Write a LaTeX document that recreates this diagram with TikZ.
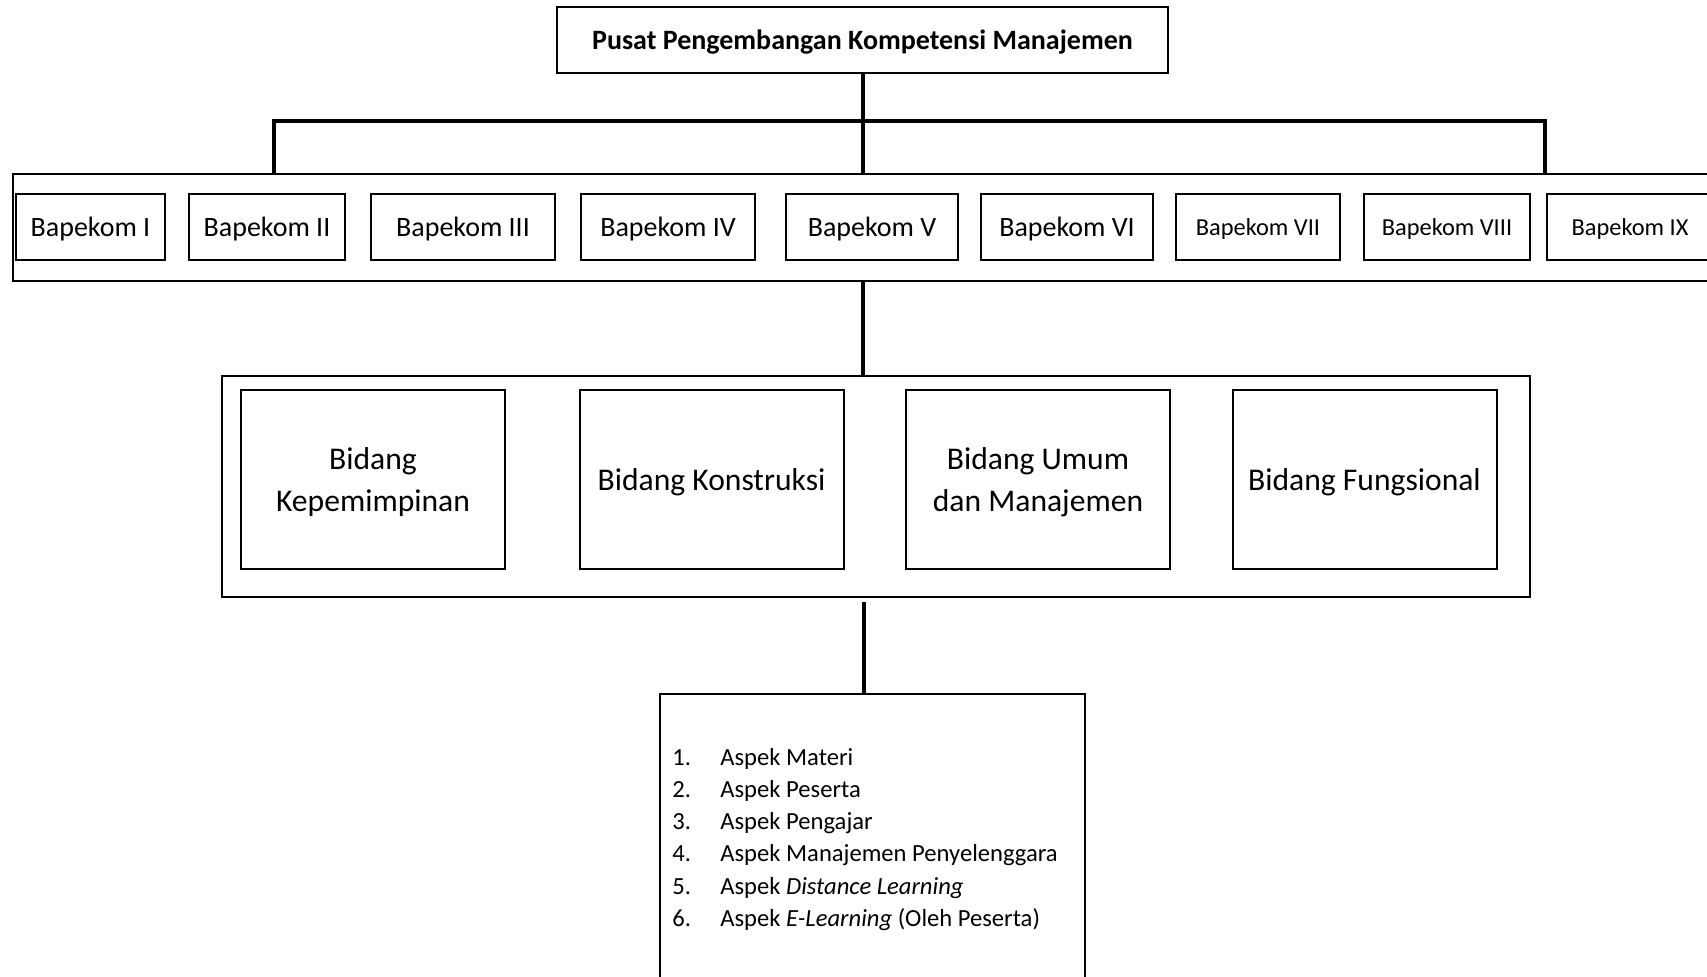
\documentclass[tikz,border=0pt]{standalone}
\usepackage{fontspec}
\setmainfont{Carlito}
\begin{document}
\begin{tikzpicture}[x=0.5pt,y=-0.5pt,
  box/.style={draw, line width=1pt, inner sep=0pt, anchor=center},
  conn/.style={line width=2pt},
  bk/.style={box, text depth=0pt, minimum height=33pt, font=\fontsize{14}{16}\selectfont},
  bks/.style={box, text depth=0pt, minimum height=33pt, font=\fontsize{12.2}{14}\selectfont},
  bid/.style={box, text depth=0pt, minimum height=89.5pt, minimum width=132pt, align=center, font=\fontsize{15.8}{21}\selectfont},
]
\useasboundingbox (0,0) rectangle (1707,976);
\clip (0,0) rectangle (1707,976);
\fill[white] (0,0) rectangle (1707,976);

% top
\node[box, text depth=0pt, minimum width=305.5pt, minimum height=33pt, font=\bfseries\fontsize{14}{16}\selectfont] (pusat) at (862.5,40) {Pusat Pengembangan Kompetensi Manajemen};

% bapekom group
\node[box, minimum width=856pt, minimum height=53.5pt] (bapekom) at (869,227.5) {};
\node[bk,  minimum width=74.5pt] (b1) at (90.5,227) {Bapekom I};
\node[bk,  minimum width=78pt]   (b2) at (267,227)  {Bapekom II};
\node[bk,  minimum width=92pt]   (b3) at (463,227)  {Bapekom III};
\node[bk,  minimum width=87pt]   (b4) at (668,227)  {Bapekom IV};
\node[bk,  minimum width=86pt]   (b5) at (872,227)  {Bapekom V};
\node[bk,  minimum width=86pt]   (b6) at (1067,227) {Bapekom VI};
\node[bks, minimum width=82pt]   (b7) at (1258,227) {Bapekom VII};
\node[bks, minimum width=83pt]   (b8) at (1447,227) {Bapekom VIII};
\node[bks, minimum width=83pt]   (b9) at (1630,227) {Bapekom IX};

% bidang group
\node[box, minimum width=654pt, minimum height=110.5pt] (bidang) at (876,486.5) {};
\node[bid] (k1) at (373,479.5)    {Bidang\\Kepemimpinan};
\node[bid] (k2) at (711.5,479.5)  {Bidang Konstruksi};
\node[bid] (k3) at (1038,479.5)   {Bidang Umum\\dan Manajemen};
\node[bid] (k4) at (1364.5,479.5) {Bidang Fungsional};

% aspek box
\node[box, minimum width=212.5pt, minimum height=158pt] (aspek) at (872.5,852) {};
\node[anchor=base west, inner sep=0pt, font=\fontsize{12.3}{16.15}\selectfont] (list) at (672,765)
{\begin{tabular}[t]{@{}l@{}l@{}}
\makebox[24pt][l]{1.} & Aspek Materi\\
\makebox[24pt][l]{2.} & Aspek Peserta\\
\makebox[24pt][l]{3.} & Aspek Pengajar\\
\makebox[24pt][l]{4.} & Aspek Manajemen Penyelenggara\\
\makebox[24pt][l]{5.} & Aspek \textit{Distance Learning}\\
\makebox[24pt][l]{6.} & Aspek \textit{E-Learning} (Oleh Peserta)
\end{tabular}};

% connectors
\coordinate (barL) at (274,121);
\coordinate (barR) at (1545,121);
\coordinate (trunk) at (864,602);
\draw[conn] (pusat.south) -- (pusat.south |- bapekom.north);
\draw[conn] (barL |- bapekom.north) -- (barL) -- (barR) -- (barR |- bapekom.north);
\draw[conn] (bapekom.south -| pusat.south) -- (bidang.north -| pusat.south);
\draw[conn] (trunk) -- (aspek.north -| trunk);
\end{tikzpicture}
\end{document}
